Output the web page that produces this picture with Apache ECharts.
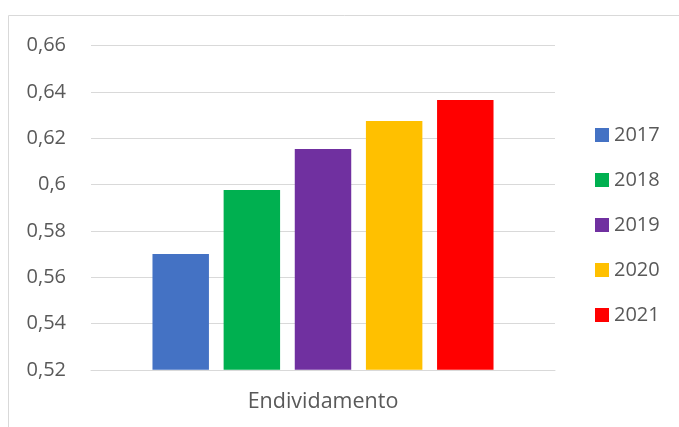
<!DOCTYPE html>
<html>
<head>
<meta charset="utf-8">
<style>
  html, body { margin: 0; padding: 0; background: #ffffff; }
  #chart { width: 679px; height: 427px; }
</style>
<script src="https://cdn.jsdelivr.net/npm/echarts@6/dist/echarts.min.js"></script>
</head>
<body>
<div id="chart"></div>
<script>
// Debt ratio per year, single category
const categories = ['Endividamento'];
const years = ['2017', '2018', '2019', '2020', '2021'];
const values = [0.570, 0.5977, 0.6154, 0.6275, 0.6365];
const colors = ['#4472C4', '#00B050', '#7030A0', '#FFC000', '#FF0000'];
const yMin = 0.52, yMax = 0.66, yStep = 0.02;

const textColor = '#595959';
const fontFamily = '"Open Sans", "Noto Sans", sans-serif';

const chart = echarts.init(document.getElementById('chart'));

const series = years.map((y, i) => ({
  name: y,
  type: 'bar',
  data: [values[i]],
  itemStyle: { color: colors[i] },
  barGap: '26%',
  barCategoryGap: '26.5%'
}));

chart.setOption({
  animation: false,
  graphic: [{
    type: 'rect',
    shape: { x: 8.5, y: 15.5, width: 800, height: 600 },
    style: { fill: 'none', stroke: '#d9d9d9', lineWidth: 1 },
    silent: true
  }],
  grid: { left: 91, right: 124, top: 45.7, bottom: 57.2 },
  legend: {
    orient: 'vertical',
    left: 595,
    top: 125,
    padding: 0,
    itemWidth: 14,
    itemHeight: 14,
    itemGap: 25,
    icon: 'rect',
    data: years,
    textStyle: { color: textColor, fontSize: 20, fontFamily: fontFamily }
  },
  xAxis: {
    type: 'category',
    data: categories,
    axisLine: { lineStyle: { color: '#d9d9d9', width: 1 } },
    axisTick: { show: false },
    axisLabel: { color: textColor, fontSize: 21.5, fontFamily: fontFamily, margin: 21 }
  },
  yAxis: {
    type: 'value',
    min: yMin,
    max: yMax,
    interval: yStep,
    axisLine: { show: false },
    axisTick: { show: false },
    splitLine: { lineStyle: { color: '#d9d9d9', width: 1 } },
    axisLabel: {
      color: textColor,
      fontSize: 20,
      fontFamily: fontFamily,
      margin: 25,
      formatter: v => String(parseFloat(v.toFixed(2))).replace('.', ',')
    }
  },
  series: series
});
</script>
</body>
</html>
